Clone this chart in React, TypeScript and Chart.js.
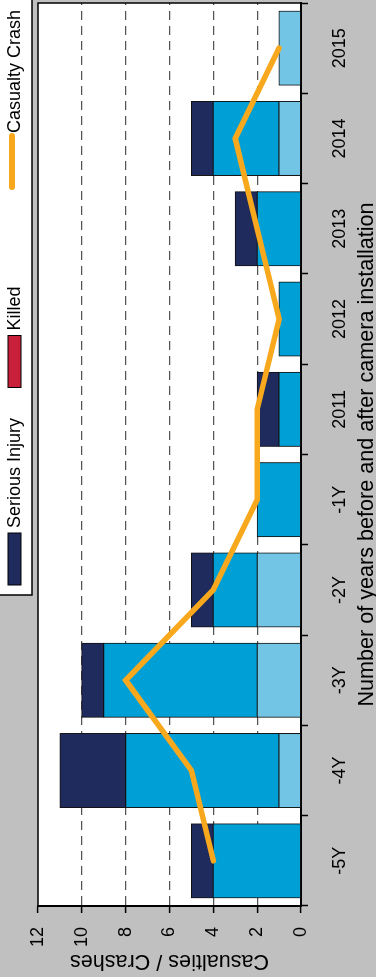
import React, { useEffect, useRef } from "react";
import { Chart, registerables } from "chart.js";

Chart.register(...registerables);

const categories = ["-5Y", "-4Y", "-3Y", "-2Y", "-1Y", "2011", "2012", "2013", "2014", "2015"];
const minorInjury = [0, 1, 2, 2, 0, 0, 0, 0, 1, 1];
const moderateInjury = [4, 7, 7, 2, 2, 1, 1, 2, 3, 0];
const seriousInjury = [1, 3, 1, 1, 0, 1, 0, 1, 1, 0];
const killed = [0, 0, 0, 0, 0, 0, 0, 0, 0, 0];
const casualtyCrash = [4, 5, 8, 4, 2, 2, 1, 2, 3, 1];
const valueTicks = [0, 2, 4, 6, 8, 10, 12];
const xTitle = "Number of years before and after camera installation";
const yTitle = "Casualties / Crashes";

const W = 977;
const H = 376;
const FONT = "'Liberation Sans', Arial, Helvetica, sans-serif";
const C_LIGHT = "#72c5e5";
const C_MED = "#00a0d6";
const C_NAVY = "#202b5d";
const C_RED = "#c8203a";
const C_ORANGE = "#f8a81c";
const C_BG = "#c0c0c0";

const bgPlugin = {
  id: "bgPlugin",
  beforeDraw(chart: any) {
    const { ctx, chartArea } = chart;
    ctx.save();
    ctx.fillStyle = C_BG;
    ctx.fillRect(0, 0, chart.width, chart.height);
    ctx.fillStyle = "#ffffff";
    ctx.fillRect(chartArea.left, chartArea.top, chartArea.right - chartArea.left, chartArea.bottom - chartArea.top);
    ctx.restore();
  },
  afterDraw(chart: any) {
    const { ctx, chartArea } = chart;
    ctx.save();
    ctx.strokeStyle = "#000";
    ctx.lineWidth = 1.5;
    ctx.beginPath();
    ctx.moveTo(chartArea.left, chartArea.top);
    ctx.lineTo(chartArea.right, chartArea.top);
    ctx.lineTo(chartArea.right, chartArea.bottom);
    ctx.stroke();

    const lx = 382;
    ctx.fillStyle = "#fff";
    ctx.fillRect(lx, -5, 620, 37);
    ctx.strokeRect(lx, -5, 620, 37);
    const items = [
      { label: chart.data.datasets[2].label, color: C_NAVY, kind: "box" },
      { label: chart.data.datasets[3].label, color: C_RED, kind: "box" },
      { label: chart.data.datasets[4].label, color: C_ORANGE, kind: "line" },
    ];
    ctx.font = `18px ${FONT}`;
    ctx.textBaseline = "middle";
    ctx.textAlign = "left";
    items.forEach((it, i) => {
      const x0 = 392 + i * 197.5;
      if (it.kind === "box") {
        ctx.fillStyle = it.color;
        ctx.fillRect(x0, 8, 52, 13);
        ctx.lineWidth = 1;
        ctx.strokeStyle = "#000";
        ctx.strokeRect(x0, 8, 52, 13);
      } else {
        ctx.strokeStyle = it.color;
        ctx.lineWidth = 6;
        ctx.lineCap = "round";
        ctx.beginPath();
        ctx.moveTo(x0 + 3, 12);
        ctx.lineTo(x0 + 54, 12);
        ctx.stroke();
      }
      ctx.fillStyle = "#000";
      ctx.fillText(it.label, x0 + 57, 15);
    });
    ctx.restore();
  },
};

export default function App() {
  const ref = useRef<HTMLCanvasElement | null>(null);

  useEffect(() => {
    if (!ref.current) return;
    const barCommon = {
      type: "bar" as const,
      borderColor: "#111",
      borderWidth: 1,
      borderSkipped: false,
      inflateAmount: 0.5,
      barPercentage: 0.82,
      categoryPercentage: 1,
      stack: "inj",
      order: 1,
    };
    const chart = new Chart(ref.current, {
      type: "bar",
      data: {
        labels: categories,
        datasets: [
          { ...barCommon, label: "Minor/Other Injury", data: minorInjury, backgroundColor: C_LIGHT },
          { ...barCommon, label: "Moderate Injury", data: moderateInjury, backgroundColor: C_MED },
          { ...barCommon, label: "Serious Injury", data: seriousInjury, backgroundColor: C_NAVY },
          { ...barCommon, label: "Killed", data: killed, backgroundColor: C_RED },
          {
            type: "line",
            label: "Casualty Crash",
            data: casualtyCrash,
            borderColor: C_ORANGE,
            backgroundColor: C_ORANGE,
            borderWidth: 5.5,
            pointRadius: 0,
            borderCapStyle: "round",
            borderJoinStyle: "miter",
            tension: 0,
            stack: "crash",
            order: 0,
          } as any,
        ],
      },
      options: {
        animation: false,
        responsive: false,
        devicePixelRatio: 1,
        layout: { padding: { top: 38, right: 3, left: 0, bottom: 0 } },
        plugins: { legend: { display: false }, tooltip: { enabled: false } },
        scales: {
          x: {
            stacked: true,
            offset: true,
            grid: {
              offset: true,
              drawOnChartArea: false,
              tickLength: 7,
              tickColor: "#000",
              tickWidth: 1.5,
            },
            border: { display: true, width: 2, color: "#000" },
            ticks: { color: "#000", font: { size: 18, family: FONT }, padding: 21, maxRotation: 0, autoSkip: false },
            title: {
              display: true,
              text: xTitle,
              color: "#000",
              font: { size: 21.6, family: FONT, lineHeight: 0.8 },
              padding: { top: 0, bottom: 0 },
            },
            afterFit(scale: any) {
              scale.height = 75;
            },
          },
          y: {
            stacked: true,
            min: 0,
            max: 12,
            afterBuildTicks(scale: any) {
              scale.ticks = valueTicks.map((v) => ({ value: v }));
            },
            grid: {
              color: (ctx: any) =>
                ctx.tick && (ctx.tick.value === 0 || ctx.tick.value === 12) ? "rgba(0,0,0,0)" : "#555",
              lineWidth: 1.2,
              tickLength: 7,
              tickColor: "#000",
              tickWidth: 1.5,
              tickBorderDash: [],
            },
            border: { display: true, width: 2, color: "#000", dash: [9, 6] },
            ticks: { color: "#000", font: { size: 18, family: FONT }, padding: 14 },
            title: {
              display: true,
              text: yTitle,
              color: "#000",
              font: { size: 21.6, family: FONT },
              padding: { top: 3, bottom: 0 },
            },
            afterFit(scale: any) {
              scale.width = 71;
            },
          },
        },
      },
      plugins: [bgPlugin],
    } as any);
    return () => chart.destroy();
  }, []);

  return (
    <div
      style={{
        position: "fixed",
        left: 0,
        top: 0,
        width: H,
        height: W,
        overflow: "hidden",
        background: C_BG,
      }}
    >
      <div
        style={{
          position: "absolute",
          left: 0,
          top: 0,
          width: W,
          height: H,
          transformOrigin: "0 0",
          transform: `translateY(${W}px) rotate(-90deg)`,
        }}
      >
        <canvas ref={ref} width={W} height={H} style={{ display: "block", width: W, height: H }} />
      </div>
    </div>
  );
}
